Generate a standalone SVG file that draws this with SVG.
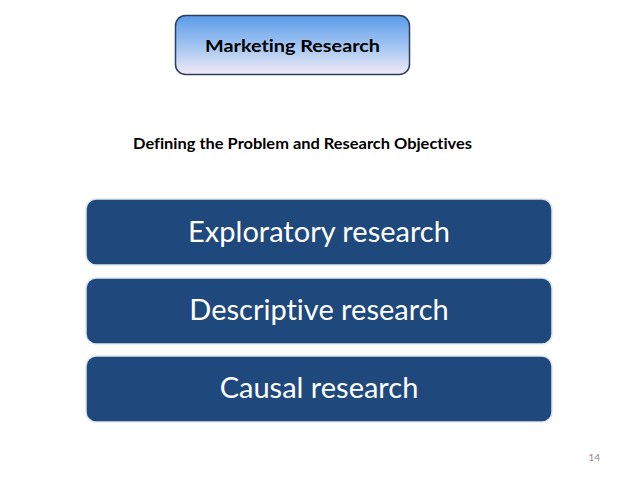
<svg xmlns="http://www.w3.org/2000/svg" width="638" height="479" viewBox="0 0 638 479">
<defs>
<linearGradient id="g" x1="0" y1="0" x2="0" y2="1">
<stop offset="0" stop-color="#5b9bea"/><stop offset="0.55" stop-color="#a7c8f2"/><stop offset="1" stop-color="#f2eaf6"/>
</linearGradient>
<style>
text{font-variant-ligatures:none}
.b{fill:#1f497d;stroke:#dfe5ee;stroke-width:1.5}
.t{font-family:Lato,"Open Sans",sans-serif;fill:#fff;font-size:29px;text-anchor:middle}
.h{font-family:Lato,"Open Sans",sans-serif;font-weight:bold;fill:#000}
</style>
</defs>
<rect width="638" height="479" fill="#fff"/>
<g id="header"><rect x="175.5" y="15.5" width="234" height="59" rx="10" fill="url(#g)" stroke="#2b3f5c" stroke-width="1.5"/>
<text class="h" x="205" y="52" font-size="17" textLength="175" lengthAdjust="spacingAndGlyphs">Marketing Research</text></g>
<g id="subtitle"><text class="h" x="133" y="149" font-size="15" textLength="339" lengthAdjust="spacingAndGlyphs">Defining the Problem and Research Objectives</text></g>
<g id="n1"><rect class="b" x="86" y="199" width="466" height="66" rx="10"/><text class="t" x="319" y="242">Exploratory research</text></g>
<g id="n2"><rect class="b" x="86" y="278" width="466" height="66" rx="10"/><text class="t" x="319" y="320">Descriptive research</text></g>
<g id="n3"><rect class="b" x="86" y="356" width="466" height="66" rx="10"/><text class="t" x="319" y="398">Causal research</text></g>
<g id="connectors"/>
<text x="600" y="461" font-family="Lato,sans-serif" font-size="10" fill="#8a8a8a" text-anchor="end">14</text>
</svg>
